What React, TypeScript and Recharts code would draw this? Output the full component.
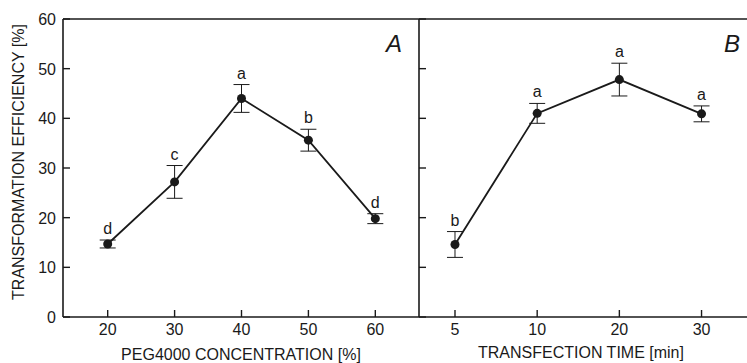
import React from "react";
import {
  LineChart,
  Line,
  XAxis,
  YAxis,
  ErrorBar,
  LabelList,
  ReferenceLine,
} from "recharts";

// Panel A: PEG4000 concentration
const pegConc = [20, 30, 40, 50, 60];
const pegMean = [14.7, 27.2, 44.0, 35.6, 19.8];
const pegErr = [0.8, 3.3, 2.8, 2.2, 1.0];
const pegLetters = ["d", "c", "a", "b", "d"];

// Panel B: transfection time (evenly spaced categories)
const timeLabels = ["5", "10", "20", "30"];
const timeMean = [14.6, 41.0, 47.8, 40.9];
const timeErr = [2.6, 2.0, 3.3, 1.6];
const timeLetters = ["b", "a", "a", "a"];

const yTicks = [0, 10, 20, 30, 40, 50, 60];

const FONT = "'Liberation Sans', Arial, sans-serif";
const INK = "#1a1a1a";

const dataA = pegConc.map((x, i) => ({
  x,
  y: pegMean[i],
  err: pegErr[i],
  top: pegMean[i] + pegErr[i],
  letter: pegLetters[i],
}));

const dataB = timeLabels.map((label, i) => ({
  x: i,
  y: timeMean[i],
  err: timeErr[i],
  top: timeMean[i] + timeErr[i],
  letter: timeLetters[i],
}));

const axisLine = { stroke: INK, strokeWidth: 1.6 };

// ticks point into the plot, labels sit outside
const makeXTick = (fmt: (v: number) => string) => (props: any) => {
  const { x, y, payload } = props;
  return (
    <g>
      <line x1={x} x2={x} y1={y} y2={y - 7} stroke={INK} strokeWidth={1.4} />
      <text
        x={x}
        y={y + 18}
        textAnchor="middle"
        fill={INK}
        fontSize={16}
        fontFamily={FONT}
      >
        {fmt(payload.value)}
      </text>
    </g>
  );
};

const makeYTick = (showLabel: boolean) => (props: any) => {
  const { x, y, payload } = props;
  return (
    <g>
      <line x1={x} x2={x + 7} y1={y} y2={y} stroke={INK} strokeWidth={1.4} />
      {showLabel && (
        <text
          x={x - 7}
          y={y + 6}
          textAnchor="end"
          fill={INK}
          fontSize={16}
          fontFamily={FONT}
        >
          {payload.value}
        </text>
      )}
    </g>
  );
};

function Series() {
  return (
    <>
      <Line
        dataKey="top"
        stroke="none"
        dot={false}
        activeDot={false}
        isAnimationActive={false}
      >
        <LabelList
          dataKey="letter"
          position="top"
          offset={6}
          style={{ fill: INK, fontSize: 16, fontFamily: FONT }}
        />
      </Line>
      <Line
        dataKey="y"
        stroke={INK}
        strokeWidth={1.8}
        dot={{ r: 4.5, fill: INK, stroke: INK, strokeWidth: 0 }}
        activeDot={false}
        isAnimationActive={false}
      >
        <ErrorBar
          dataKey="err"
          direction="y"
          width={8}
          stroke={INK}
          strokeWidth={1}
          isAnimationActive={false}
        />
      </Line>
    </>
  );
}

const panelLetter = (left: number): React.CSSProperties => ({
  position: "absolute",
  left,
  top: 30,
  fontSize: 24,
  fontStyle: "italic",
  lineHeight: "28px",
  color: INK,
});

export default function App() {
  return (
    <div
      style={{
        position: "absolute",
        left: 0,
        top: 0,
        width: 747,
        height: 363,
        overflow: "hidden",
        background: "#fff",
        fontFamily: FONT,
      }}
    >
      <div style={{ position: "absolute", left: 0, top: 0 }}>
        <LineChart
          width={420}
          height={363}
          data={dataA}
          margin={{ top: 19, right: 1, bottom: 0, left: 0 }}
        >
          <XAxis
            dataKey="x"
            type="number"
            domain={[13.32, 66.53]}
            ticks={pegConc}
            height={46}
            axisLine={axisLine}
            tickLine={false}
            tickSize={0}
            tickMargin={0}
            tick={makeXTick((v) => String(v))}
            label={{
              value: "PEG4000 CONCENTRATION [%]",
              position: "insideBottom",
              offset: 3,
              style: { fill: INK, fontSize: 16, fontFamily: FONT },
            }}
          />
          <YAxis
            type="number"
            domain={[0, 60]}
            ticks={yTicks}
            width={63}
            axisLine={axisLine}
            tickLine={false}
            tickSize={0}
            tickMargin={0}
            tick={makeYTick(true)}
            label={{
              content: () => (
                <text
                  x={0}
                  y={0}
                  transform="translate(24, 162) rotate(-90)"
                  textAnchor="middle"
                  fill={INK}
                  fontSize={16}
                  fontFamily={FONT}
                >
                  TRANSFORMATION EFFICIENCY [%]
                </text>
              ),
            }}
          />
          <ReferenceLine y={60} stroke={INK} strokeWidth={1.6} />
          {Series()}
        </LineChart>
      </div>

      <div style={{ position: "absolute", left: 418, top: 0 }}>
        <LineChart
          width={346}
          height={363}
          data={dataB}
          margin={{ top: 19, right: 0, bottom: 0, left: 0 }}
        >
          <XAxis
            dataKey="x"
            type="number"
            domain={[-0.438, 3.76]}
            ticks={[0, 1, 2, 3]}
            height={46}
            axisLine={axisLine}
            tickLine={false}
            tickSize={0}
            tickMargin={0}
            tick={makeXTick((v) => timeLabels[v] ?? "")}
          />
          <YAxis
            type="number"
            domain={[0, 60]}
            ticks={yTicks}
            width={1}
            axisLine={axisLine}
            tickLine={false}
            tickSize={0}
            tickMargin={0}
            tick={makeYTick(false)}
          />
          <ReferenceLine y={60} stroke={INK} strokeWidth={1.6} />
          {Series()}
        </LineChart>
      </div>

      <div style={panelLetter(386)}>A</div>
      <div style={panelLetter(724)}>B</div>
      <div
        style={{
          position: "absolute",
          left: 478,
          top: 343,
          width: 200,
          textAlign: "center",
          whiteSpace: "nowrap",
          fontSize: 16,
          lineHeight: "20px",
          color: INK,
        }}
      >
        TRANSFECTION TIME [min]
      </div>
    </div>
  );
}
